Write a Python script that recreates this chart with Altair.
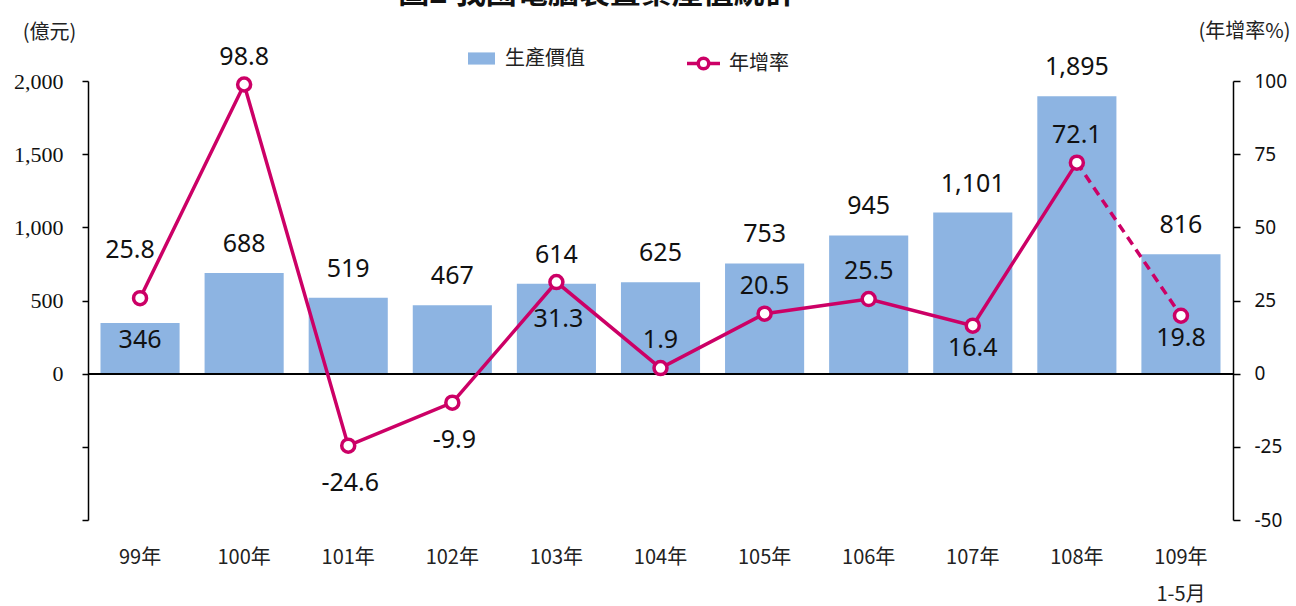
import altair as alt
import pandas as pd

# ---- data ----
years = ['99年', '100年', '101年', '102年', '103年', '104年', '105年', '106年', '107年', '108年', '109年']
production = [346, 688, 519, 467, 614, 625, 753, 945, 1101, 1895, 816]
growth = [25.8, 98.8, -24.6, -9.9, 31.3, 1.9, 20.5, 25.5, 16.4, 72.1, 19.8]

bar_series = '生產價值'
line_series = '年增率'
title_text = '圖2 我國電腦裝置業產值統計'
left_title = '(億元)'
right_title = '(年增率%)'

# label placement groups
bar_label_inside = ['99年']
rate_above = ['100年', '104年', '105年', '106年', '108年']
rate_below_far = ['101年', '102年', '103年']
rate_below_near = ['107年', '109年']
rate_special = ['99年']
solid_years = years[:-1]
dashed_years = years[-2:]

df = pd.DataFrame({'year': years, 'value': production, 'rate': growth,
                   'bs': bar_series, 'ls': line_series})

W, H = 1145, 439
BLUE = '#8DB4E2'
MAG = '#CC0066'
CJK = 'Noto Sans CJK TC'
NUM = 'Noto Sans'

xenc = alt.X('year:N', sort=years,
             scale=alt.Scale(paddingInner=0.24, paddingOuter=0.12),
             axis=alt.Axis(title=None, domain=False, ticks=False, labelPadding=27,
                           labelFont=CJK, labelFontSize=20, labelColor='#222',
                           labelBaseline='top', labelLineHeight=37, labelAngle=0,
                           labelExpr="datum.value == '109年' ? ['109年', '1-5月'] : datum.label"))

yleft = alt.Y('value:Q',
              scale=alt.Scale(domain=[-1000, 2000], nice=False, zero=False),
              axis=alt.Axis(values=[-1000, -500, 0, 500, 1000, 1500, 2000],
                            labelExpr="datum.value < 0 ? '' : format(datum.value, ',')",
                            grid=False, domainColor='black', domainWidth=1.5,
                            tickColor='black', tickSize=6, tickWidth=1.5,
                            labelPadding=19, labelFont='Liberation Serif', labelFontSize=22,
                            labelColor='#111',
                            title=left_title, titleAngle=0, titleX=-39, titleY=-49,
                            titleAlign='center', titleBaseline='middle',
                            titleFont=CJK, titleFontSize=20, titleFontWeight='normal',
                            titleColor='#222'))

yright = alt.Y('rate:Q',
               scale=alt.Scale(domain=[-50, 100], nice=False, zero=False),
               axis=alt.Axis(orient='right', values=[-50, -25, 0, 25, 50, 75, 100],
                             labelExpr="replace(datum.label, '\u2212', '-')",
                             grid=False, domainColor='black', domainWidth=1.5,
                             tickColor='black', tickSize=7, tickWidth=1.5,
                             labelPadding=14, labelFont=NUM, labelFontSize=19,
                             labelColor='#111',
                             title=right_title, titleAngle=0, titleX=11, titleY=-50,
                             titleAlign='center', titleBaseline='middle',
                             titleFont=CJK, titleFontSize=20, titleFontWeight='normal',
                             titleColor='#222'))

base = alt.Chart(df).transform_calculate(
    vlabel="format(datum.value, ',')",
    rlabel="replace(format(datum.rate, '.1f'), '\u2212', '-')"
)

bars = base.mark_bar().encode(
    x=xenc, y=yleft,
    color=alt.Color('bs:N', scale=alt.Scale(domain=[bar_series], range=[BLUE]),
                    legend=alt.Legend(title=None, orient='none', legendX=380, legendY=-36,
                                      symbolType='M-1,-0.45H1V0.45H-1Z', symbolSize=729,
                                      symbolStrokeWidth=0, labelOffset=10, padding=0,
                                      labelFont=CJK, labelFontSize=20, labelColor='#222'))
)

bar_text_above = base.mark_text(font=NUM, fontSize=25, color='#111', baseline='middle', dy=-29).encode(
    x=xenc, y=yleft, text='vlabel:N'
).transform_filter(~alt.FieldOneOfPredicate(field='year', oneOf=bar_label_inside))

bar_text_inside = base.mark_text(font=NUM, fontSize=25, color='#111', baseline='middle', dy=17).encode(
    x=xenc, y=yleft, text='vlabel:N'
).transform_filter(alt.FieldOneOfPredicate(field='year', oneOf=bar_label_inside))

zero_rule = base.mark_rule(color='black', strokeWidth=1.5).encode(
    y=alt.datum(0, scale=alt.Scale(domain=[-1000, 2000], nice=False, zero=False))
)

title_mark = alt.Chart(pd.DataFrame({'t': [title_text]})).mark_text(
    font=CJK, fontSize=31, fontWeight='bold', color='#111', baseline='alphabetic', align='center'
).encode(text='t:N', x=alt.value(509), y=alt.value(-78))

left_group = alt.layer(bars, bar_text_above, bar_text_inside, zero_rule, title_mark)

line_solid = base.mark_line(strokeWidth=3.5).encode(
    x=xenc, y=yright,
    stroke=alt.Stroke('ls:N', scale=alt.Scale(domain=[line_series], range=[MAG]),
                      legend=alt.Legend(title=None, orient='none', legendX=597, legendY=-36,
                                        symbolType='M-1,0H-0.32M0.32,0H1M-0.32,0A0.32,0.32 0 1,0 0.32,0A0.32,0.32 0 1,0 -0.32,0',
                                        symbolSize=1089, symbolStrokeWidth=3.5,
                                        symbolFillColor='white', labelOffset=7, padding=0,
                                        labelFont=CJK, labelFontSize=20, labelColor='#222'))
).transform_filter(alt.FieldOneOfPredicate(field='year', oneOf=solid_years))

line_dashed = base.mark_line(strokeWidth=3.5, color=MAG, strokeDash=[9, 6]).encode(
    x=xenc, y=yright
).transform_filter(alt.FieldOneOfPredicate(field='year', oneOf=dashed_years))

points = base.mark_point(shape='circle', filled=True, fill='white', stroke=MAG,
                         strokeWidth=3.5, size=169, opacity=1).encode(
    x=xenc, y=yright
)

def rate_labels(group, dx, dy):
    return base.mark_text(font=NUM, fontSize=25, color='#111', baseline='middle',
                          dx=dx, dy=dy).encode(
        x=xenc, y=yright, text='rlabel:N'
    ).transform_filter(alt.FieldOneOfPredicate(field='year', oneOf=group))

right_group = alt.layer(
    line_solid, line_dashed, points,
    rate_labels(rate_above, 0, -28),
    rate_labels(rate_below_far, 2, 37),
    rate_labels(rate_below_near, 0, 22),
    rate_labels(rate_special, -10, -48),
)

chart = alt.layer(left_group, right_group).resolve_scale(
    y='independent', color='independent'
).properties(
    width=W, height=H,
    padding={'left': 88, 'top': 81, 'right': 63, 'bottom': 86},
    autosize=alt.AutoSizeParams(type='none'),
    background='white'
).configure_view(stroke=None)

chart.save('out.html', embed_options={'renderer': 'svg', 'actions': False})
